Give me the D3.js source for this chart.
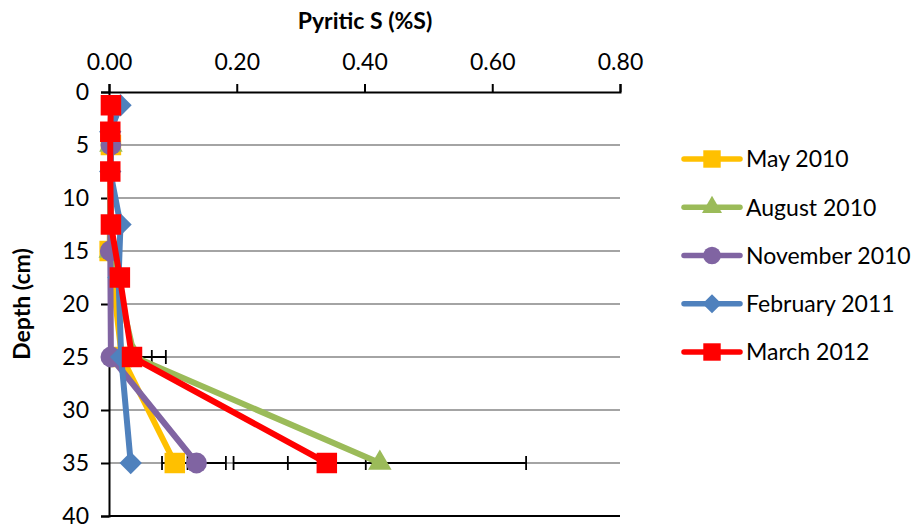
<!DOCTYPE html>
<html>
<head>
<meta charset="utf-8">
<script src="https://cdn.jsdelivr.net/npm/d3@7"></script>
<style>
  html, body { margin: 0; padding: 0; background: #fff; }
  svg { display: block; }
  text { font-family: Lato, "Open Sans", sans-serif; fill: #000; }
</style>
</head>
<body>
<svg id="chart" width="923" height="528"></svg>
<script>
// Sampling depths (cm): fine intervals for 2011/2012, 10 cm composites for 2010
const depthsFine = [1.25, 3.75, 7.5, 12.5, 17.5, 25, 35];
const depthsCoarse = [5, 15, 25, 35];

// Pyritic S (%S) per campaign, with error bar half-widths (null = none)
const may2010 = [0.003, 0.001, 0.020, 0.103];
const may2010Err = [null, null, null, 0.020];
const aug2010 = [0.003, 0.002, 0.040, 0.424];
const aug2010Err = [null, null, 0.027, 0.229];
const nov2010 = [0.003, 0.002, 0.003, 0.137];
const nov2010Err = [null, null, null, 0.046];
const feb2011 = [0.018, 0.002, 0.002, 0.018, 0.015, 0.019, 0.034];
const feb2011Err = [null, null, null, null, null, null, null];
const mar2012 = [0.003, 0.002, 0.002, 0.003, 0.017, 0.036, 0.341];
const mar2012Err = [null, null, null, null, null, 0.053, 0.061];

const seriesNames = ["May 2010", "August 2010", "November 2010", "February 2011", "March 2012"];
const xTicks = [0, 0.2, 0.4, 0.6, 0.8];
const yTicks = [0, 5, 10, 15, 20, 25, 30, 35, 40];

const series = [
  { name: seriesNames[0], depths: depthsCoarse, values: may2010, errs: may2010Err, color: "#FFC000", marker: "square" },
  { name: seriesNames[1], depths: depthsCoarse, values: aug2010, errs: aug2010Err, color: "#9BBB59", marker: "triangle" },
  { name: seriesNames[2], depths: depthsCoarse, values: nov2010, errs: nov2010Err, color: "#8064A2", marker: "circle" },
  { name: seriesNames[3], depths: depthsFine, values: feb2011, errs: feb2011Err, color: "#4F81BD", marker: "diamond" },
  { name: seriesNames[4], depths: depthsFine, values: mar2012, errs: mar2012Err, color: "#FF0000", marker: "square" }
];

const svg = d3.select("#chart");
const plot = { left: 109, right: 620, top: 92, bottom: 516 };

const x = d3.scaleLinear().domain([0, 0.8]).range([plot.left, plot.right]);
const y = d3.scaleLinear().domain([0, 40]).range([plot.top, plot.bottom]);

// clip region for error bars (they stop at the plot edges)
svg.append("defs").append("clipPath").attr("id", "plotClip")
  .append("rect")
  .attr("x", plot.left).attr("y", plot.top - 20)
  .attr("width", plot.right - plot.left).attr("height", plot.bottom - plot.top + 40);

// horizontal gridlines
svg.append("g")
  .selectAll("line")
  .data(yTicks.filter(d => d > 0 && d < 40))
  .join("line")
  .attr("x1", plot.left).attr("x2", plot.right)
  .attr("y1", d => y(d)).attr("y2", d => y(d))
  .attr("stroke", "#868686").attr("stroke-width", 1.6);

// bottom border line
svg.append("line")
  .attr("x1", plot.left).attr("x2", plot.right)
  .attr("y1", y(40)).attr("y2", y(40))
  .attr("stroke", "#000").attr("stroke-width", 2);

// top x axis
const xAxis = svg.append("g")
  .attr("transform", `translate(0,${plot.top})`)
  .call(d3.axisTop(x).tickValues(xTicks).tickFormat(d3.format(".2f")).tickSize(8).tickPadding(14));
xAxis.select(".domain").attr("stroke", "#000").attr("stroke-width", 2);
xAxis.selectAll(".tick line").attr("stroke", "#000").attr("stroke-width", 2);
xAxis.selectAll(".tick text").style("font-size", "23px").style("font-family", "Lato, sans-serif").attr("fill", "#000");

// left y axis
const yAxis = svg.append("g")
  .attr("transform", `translate(${plot.left},0)`)
  .call(d3.axisLeft(y).tickValues(yTicks).tickFormat(d3.format("d")).tickSize(8).tickPadding(12));
yAxis.select(".domain").attr("stroke", "#000").attr("stroke-width", 2);
yAxis.selectAll(".tick line").attr("stroke", "#000").attr("stroke-width", 2);
yAxis.selectAll(".tick text").style("font-size", "23px").style("font-family", "Lato, sans-serif").attr("fill", "#000");

// axis titles
svg.append("text")
  .attr("x", 365).attr("y", 29)
  .attr("text-anchor", "middle")
  .style("font-size", "23px").style("font-weight", "bold")
  .text("Pyritic S (%S)");

svg.append("text")
  .attr("transform", `translate(30,${(plot.top + plot.bottom) / 2}) rotate(-90)`)
  .attr("text-anchor", "middle")
  .style("font-size", "23px").style("font-weight", "bold")
  .text("Depth (cm)");

function markerPath(type, scale) {
  const k = scale || 1;
  switch (type) {
    case "square": return d3.symbol().type(d3.symbolSquare).size(420 * k * k)();
    case "circle": return d3.symbol().type(d3.symbolCircle).size(340 * k * k)();
    case "triangle": return d3.symbol().type(d3.symbolTriangle).size(240 * k * k)();
    case "diamond": return d3.symbol().type(d3.symbolSquare).size(250 * k * k)();
  }
}

const points = s => s.values.map((v, i) => ({ v, d: s.depths[i], e: s.errs[i] }));

// error bars
const errG = svg.append("g").attr("clip-path", "url(#plotClip)");
series.forEach(s => {
  const pts = points(s).filter(p => p.e != null);
  const g = errG.append("g");
  g.selectAll("line.bar").data(pts).join("line").attr("class", "bar")
    .attr("x1", p => x(p.v - p.e)).attr("x2", p => x(p.v + p.e))
    .attr("y1", p => y(p.d)).attr("y2", p => y(p.d))
    .attr("stroke", "#000").attr("stroke-width", 1.8);
  [-1, 1].forEach(sign => {
    g.selectAll(`line.cap${sign}`).data(pts).join("line").attr("class", `cap${sign}`)
      .attr("x1", p => x(p.v + sign * p.e)).attr("x2", p => x(p.v + sign * p.e))
      .attr("y1", p => y(p.d) - 7).attr("y2", p => y(p.d) + 7)
      .attr("stroke", "#000").attr("stroke-width", 1.8);
  });
});

// series lines and markers
const line = d3.line().x(p => x(p.v)).y(p => y(p.d));
series.forEach(s => {
  const pts = points(s);
  const g = svg.append("g");
  g.append("path").datum(pts)
    .attr("d", line)
    .attr("fill", "none").attr("stroke", s.color)
    .attr("stroke-width", 6).attr("stroke-linejoin", "round").attr("stroke-linecap", "round");
  g.selectAll("path.mk").data(pts).join("path").attr("class", "mk")
    .attr("d", markerPath(s.marker))
    .attr("transform", p => `translate(${x(p.v)},${y(p.d)})` + (s.marker === "diamond" ? " rotate(45)" : ""))
    .attr("fill", s.color);
});

// legend
const legend = svg.append("g");
const legendY = d3.scalePoint().domain(seriesNames).range([159, 352]);
series.forEach(s => {
  const ly = legendY(s.name);
  legend.append("line")
    .attr("x1", 684).attr("x2", 740).attr("y1", ly).attr("y2", ly)
    .attr("stroke", s.color).attr("stroke-width", 5.5).attr("stroke-linecap", "round");
  legend.append("path")
    .attr("d", markerPath(s.marker, 0.85))
    .attr("transform", `translate(712,${ly})` + (s.marker === "diamond" ? " rotate(45)" : ""))
    .attr("fill", s.color);
  legend.append("text")
    .attr("x", 746).attr("y", ly).attr("dy", "0.36em")
    .style("font-size", "23px")
    .text(s.name);
});
</script>
</body>
</html>
